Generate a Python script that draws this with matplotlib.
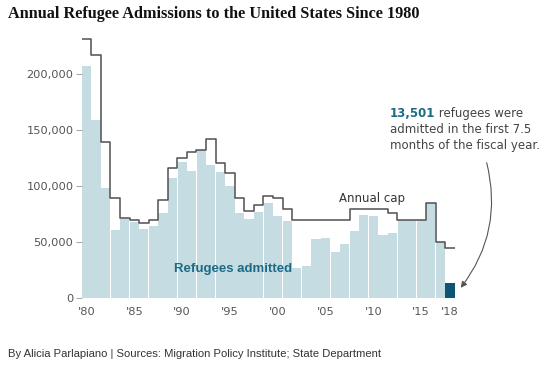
import matplotlib.pyplot as plt
import numpy as np

years = np.arange(1980, 2019)
admitted = [207116, 159252, 98096, 61218, 70393, 67704, 62146, 64528, 76483, 107070,
            122066, 113389, 132531, 119448, 112682, 99974, 76403, 70488, 77080, 85525,
            73147, 69304, 27131, 28403, 52868, 53813, 41223, 48282, 60191, 74654,
            73311, 56424, 58238, 69926, 69987, 69933, 84994, 50000, 13501]
cap = [231700, 217000, 140000, 90000, 72000, 70000, 67000, 70000, 87500, 116500,
       125000, 131000, 132000, 142000, 121000, 112000, 90000, 78000, 83000, 91000,
       90000, 80000, 70000, 70000, 70000, 70000, 70000, 70000, 80000, 80000,
       80000, 80000, 76000, 70000, 70000, 70000, 85000, 50000, 45000]
yticks = [0, 50000, 100000, 150000, 200000]
xtick_years = [1980, 1985, 1990, 1995, 2000, 2005, 2010, 2015, 2018]
xtick_labels = ["'80", "'85", "'90", "'95", "'00", "'05", "'10", "'15", "'18"]

light = '#c6dce3'
dark = '#0e5475'
teal = '#1d6a86'

fig = plt.figure(figsize=(5.43, 3.67), dpi=100)
ax = fig.add_axes([0.1505, 0.1872, 0.6869, 0.7324])

colors = [light] * (len(years) - 1) + [dark]
ax.bar(years, admitted, width=0.96, color=colors, linewidth=0)

# annual cap as a step line across each year's bar
cap_x = np.append(years - 0.5, years[-1] + 0.5)
cap_y = cap + [cap[-1]]
ax.step(cap_x, cap_y, where='post', color='#505050', linewidth=1.1)

ax.set_xlim(1979.5, 2018.5)
ax.set_ylim(0, 240000)
ax.set_yticks(yticks)
ax.set_yticklabels([f'{v:,}' for v in yticks])
ax.set_xticks(xtick_years)
ax.set_xticklabels(xtick_labels)
ax.tick_params(axis='y', length=4, color='#aaaaaa', labelsize=8.2, labelcolor='#555555', pad=2)
ax.tick_params(axis='x', length=0, labelsize=8.2, labelcolor='#555555', pad=6)
for s in ax.spines.values():
    s.set_visible(False)

ax.text(1989.2, 26000, 'Refugees admitted', color=teal, fontsize=9.5, fontweight='bold',
        family=['Liberation Sans Narrow', 'Liberation Sans'], ha='left', va='center')
ax.text(2006.4, 89000, 'Annual cap', color='#333333', fontsize=8.5, ha='left', va='center')

t1 = fig.text(0.718, 1 - 113.3 / 367, '13,501', color=teal, fontsize=8.5, fontweight='bold',
              ha='left', va='center')
ax.annotate(' refugees were', xy=(1, 0.5), xycoords=t1, color='#444444', fontsize=8.5,
            ha='left', va='center')
fig.text(0.718, 1 - 129.5 / 367, 'admitted in the first 7.5', color='#444444', fontsize=8.5,
         ha='left', va='center')
fig.text(0.718, 1 - 145.5 / 367, 'months of the fiscal year.', color='#444444', fontsize=8.5,
         ha='left', va='center')

ax.annotate('', xy=(459 / 543, 1 - 290 / 367), xycoords='figure fraction',
            xytext=(486 / 543, 1 - 160 / 367), textcoords='figure fraction',
            arrowprops=dict(arrowstyle='-|>', color='#555555', lw=0.8,
                            connectionstyle='arc3,rad=-0.25', mutation_scale=9))

fig.text(8 / 543, 1 - 14 / 367, 'Annual Refugee Admissions to the United States Since 1980',
         family='Liberation Serif', fontweight='bold', fontsize=11.7, color='#111111',
         ha='left', va='center')
fig.text(8 / 543, 1 - 354 / 367,
         'By Alicia Parlapiano | Sources: Migration Policy Institute; State Department',
         family='Liberation Sans', fontsize=8.1, color='#333333', ha='left', va='center')

fig.savefig('out.png', dpi=100, facecolor='white')
